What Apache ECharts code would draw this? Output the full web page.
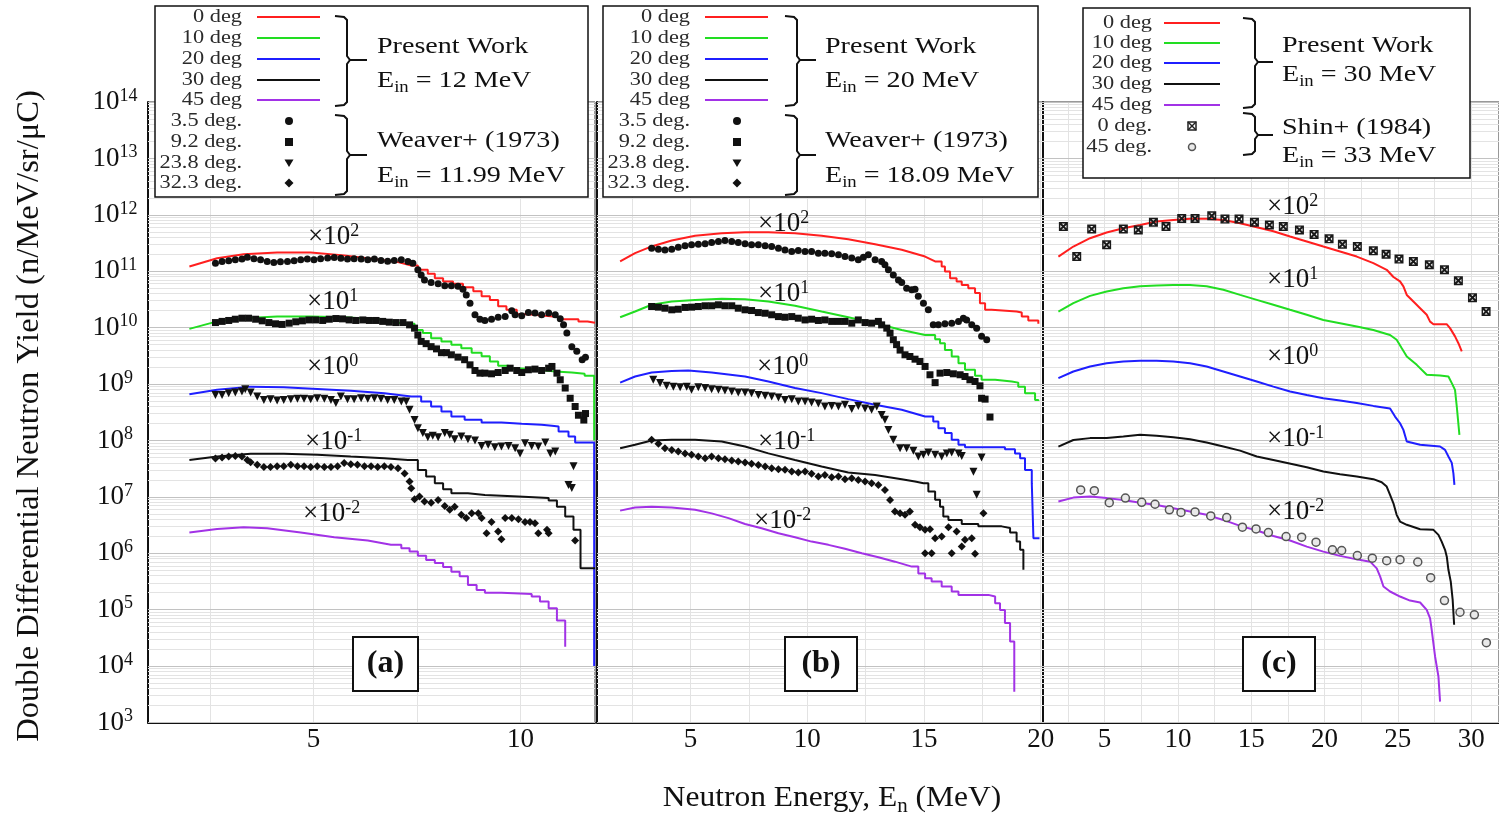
<!DOCTYPE html>
<html>
<head>
<meta charset="utf-8">
<script src="https://cdn.jsdelivr.net/npm/echarts@6.0.0/dist/echarts.min.js"></script>
<style>
html,body{margin:0;padding:0;background:#fff;}
#chart{width:1499px;height:817px;}
</style>
</head>
<body>
<div id="chart"></div>
<script>
// ---------------------------------------------------------------
// Double differential neutron yields, three incident energies.
// Values are raw yields (n/MeV/sr/uC); each angle is drawn
// multiplied by its offset factor (x10^2 ... x10^-2).
// ---------------------------------------------------------------

const ANGLES = ['0 deg', '10 deg', '20 deg', '30 deg', '45 deg'];
const ANGLE_SCALE = [1e2, 1e1, 1, 1e-1, 1e-2];
const SCALE_EXP = ['2', '1', '0', '-1', '-2'];

// Energy axis extents and tick values per panel
const X_RANGE = [[1, 11.8], [1, 20.1], [0.8, 31.9]];
const X_LABELS = [[5, 10], [5, 10, 15, 20], [5, 10, 15, 20, 25, 30]];
const X_TICKS = [[2.5, 5, 7.5, 10], [2.5, 5, 7.5, 10, 12.5, 15, 17.5, 20],
  [2.5, 5, 7.5, 10, 12.5, 15, 17.5, 20, 22.5, 25, 27.5, 30]];
// Yield axis decades
const Y_DECADES = [1e3, 1e4, 1e5, 1e6, 1e7, 1e8, 1e9, 1e10, 1e11, 1e12, 1e13, 1e14];

// ---- Present Work, E_in = 12 MeV ----
const PW12_0 = [[2.00,1.21e9],[2.67,1.70e9],[3.31,2.00e9],[4.12,2.14e9],[4.93,2.14e9],[5.74,1.91e9],[6.55,1.62e9],[7.04,1.45e9],[7.36,1.26e9],[7.52,1.06e9],[7.76,9.0e8],[7.93,7.5e8],[8.13,6.6e8],[8.37,6.0e8],[8.61,5.2e8],[8.86,4.4e8],[9.06,3.6e8],[9.26,3.1e8],[9.46,2.4e8],[9.66,2.07e8],[9.91,1.73e8],[10.19,1.62e8],[10.59,1.53e8],[11.00,1.41e8],[11.40,1.29e8],[11.62,1.22e8],[11.80,1.22e8]];
const PW12_10 = [[2.00,9.5e8],[2.67,1.29e9],[3.31,1.47e9],[4.12,1.57e9],[4.93,1.57e9],[5.74,1.53e9],[6.55,1.41e9],[7.20,1.17e9],[7.44,9.1e8],[7.64,8.0e8],[7.84,6.5e8],[8.09,5.7e8],[8.33,4.95e8],[8.57,4.3e8],[8.82,3.6e8],[9.06,3.1e8],[9.26,2.5e8],[9.46,2.1e8],[9.71,1.88e8],[10.03,1.79e8],[10.43,1.67e8],[10.84,1.60e8],[11.24,1.52e8],[11.55,1.40e8],[11.78,1.0e7]];
const PW12_20 = [[2.00,6.6e8],[2.67,7.9e8],[3.48,9.0e8],[4.28,8.8e8],[5.09,8.2e8],[5.90,7.6e8],[6.71,6.9e8],[7.36,6.0e8],[7.60,4.9e8],[7.84,4.0e8],[8.09,3.26e8],[8.33,2.65e8],[8.65,2.32e8],[9.06,2.08e8],[9.54,1.97e8],[10.03,1.89e8],[10.51,1.82e8],[10.76,1.77e8],[10.92,1.44e8],[11.16,1.17e8],[11.32,9.2e7],[11.78,1.0e4]];
const PW12_30 = [[2.00,4.5e8],[2.67,5.2e8],[3.48,5.8e8],[4.28,5.8e8],[5.09,5.6e8],[5.90,5.2e8],[6.71,4.85e8],[7.28,4.5e8],[7.52,3.0e8],[7.72,2.3e8],[7.93,1.75e8],[8.13,1.37e8],[8.33,1.16e8],[8.73,1.08e8],[9.14,1.01e8],[9.95,9.5e7],[10.68,8.6e7],[10.88,6.7e7],[11.08,4.5e7],[11.28,2.6e7],[11.45,5.4e6],[11.80,5.4e6]];
const PW12_45 = [[2.00,2.33e8],[2.67,2.7e8],[3.31,2.9e8],[3.88,2.78e8],[4.69,2.33e8],[5.50,1.93e8],[6.31,1.68e8],[6.87,1.41e8],[7.12,1.23e8],[7.32,1.07e8],[7.52,9.0e7],[7.72,7.6e7],[7.93,6.7e7],[8.13,5.7e7],[8.33,4.7e7],[8.53,3.9e7],[8.73,2.75e7],[8.94,2.24e7],[9.14,2.0e7],[9.54,1.9e7],[10.27,1.71e7],[10.47,1.39e7],[10.68,1.06e7],[10.88,6.4e6],[11.08,2.2e6]];
// energy where each histogram turns into visible stairs
const STAIRS_12 = [7.52, 7.44, 7.60, 7.52, 7.12];

// ---- Weaver+ (1973), E_in = 11.99 MeV ----
const WV12_3P5 = [[2.63,1.39e9],[2.79,1.49e9],[2.95,1.53e9],[3.11,1.59e9],[3.27,1.64e9],[3.40,1.77e9],[3.56,1.66e9],[3.72,1.59e9],[3.88,1.49e9],[4.04,1.43e9],[4.20,1.47e9],[4.37,1.49e9],[4.53,1.53e9],[4.69,1.59e9],[4.85,1.64e9],[5.01,1.59e9],[5.17,1.66e9],[5.34,1.71e9],[5.50,1.75e9],[5.66,1.69e9],[5.82,1.64e9],[5.98,1.66e9],[6.15,1.64e9],[6.31,1.59e9],[6.47,1.64e9],[6.63,1.55e9],[6.79,1.51e9],[6.95,1.55e9],[7.12,1.59e9],[7.28,1.49e9],[7.40,1.39e9],[7.52,1.06e9],[7.60,8.6e8],[7.68,7.0e8],[7.84,6.3e8],[8.01,6.0e8],[8.17,5.5e8],[8.33,5.5e8],[8.49,5.4e8],[8.61,4.8e8],[8.69,3.8e8],[8.78,2.7e8],[8.90,1.69e8],[9.02,1.41e8],[9.14,1.34e8],[9.30,1.41e8],[9.46,1.53e8],[9.63,1.57e8],[9.79,2.0e8],[9.87,1.69e8],[10.03,1.62e8],[10.19,1.85e8],[10.35,1.81e8],[10.51,1.69e8],[10.68,1.81e8],[10.84,1.69e8],[10.96,1.43e8],[11.04,1.12e8],[11.12,8.0e7],[11.24,4.6e7],[11.36,3.8e7],[11.49,2.7e7],[11.57,3.0e7]];
const WV12_9P2 = [[2.63,1.23e9],[2.79,1.29e9],[2.95,1.34e9],[3.11,1.41e9],[3.27,1.47e9],[3.43,1.47e9],[3.60,1.41e9],[3.76,1.32e9],[3.92,1.23e9],[4.08,1.17e9],[4.24,1.14e9],[4.41,1.20e9],[4.57,1.27e9],[4.73,1.32e9],[4.89,1.37e9],[5.05,1.37e9],[5.22,1.34e9],[5.38,1.41e9],[5.54,1.45e9],[5.70,1.43e9],[5.86,1.37e9],[6.02,1.34e9],[6.19,1.37e9],[6.35,1.34e9],[6.51,1.34e9],[6.67,1.29e9],[6.83,1.25e9],[6.99,1.23e9],[7.16,1.23e9],[7.32,1.12e9],[7.44,9.8e8],[7.52,7.4e8],[7.60,5.7e8],[7.72,5.2e8],[7.84,4.6e8],[7.97,4.2e8],[8.09,3.6e8],[8.21,3.6e8],[8.33,3.3e8],[8.49,3.0e8],[8.65,2.7e8],[8.78,2.19e8],[8.90,1.74e8],[9.02,1.56e8],[9.14,1.56e8],[9.30,1.52e8],[9.46,1.60e8],[9.63,1.74e8],[9.75,1.91e8],[9.91,1.74e8],[10.03,1.60e8],[10.19,1.79e8],[10.35,1.84e8],[10.51,1.74e8],[10.68,1.91e8],[10.76,2.05e8],[10.88,1.56e8],[10.96,1.19e8],[11.08,8.5e7],[11.20,5.6e7],[11.32,4.0e7],[11.40,2.8e7],[11.53,2.3e7],[11.57,3.0e7]];
const WV12_23P8 = [[2.63,6.4e8],[2.79,6.4e8],[2.95,6.9e8],[3.11,7.1e8],[3.27,7.4e8],[3.35,8.1e8],[3.48,7.1e8],[3.64,6.0e8],[3.80,5.2e8],[3.96,5.4e8],[4.12,5.1e8],[4.28,5.2e8],[4.45,5.4e8],[4.61,5.5e8],[4.77,5.5e8],[4.93,5.4e8],[5.09,5.6e8],[5.26,5.5e8],[5.42,5.2e8],[5.54,4.6e8],[5.66,6.0e8],[5.82,5.4e8],[5.98,5.4e8],[6.15,5.6e8],[6.31,5.5e8],[6.47,5.6e8],[6.63,5.5e8],[6.79,5.2e8],[6.95,5.2e8],[7.12,4.9e8],[7.24,4.9e8],[7.32,3.5e8],[7.44,2.3e8],[7.52,1.65e8],[7.64,1.35e8],[7.76,1.14e8],[7.88,1.21e8],[8.01,1.14e8],[8.17,1.35e8],[8.29,1.26e8],[8.41,1.05e8],[8.57,1.17e8],[8.73,1.05e8],[8.90,1.0e8],[9.06,8.0e7],[9.22,8.4e7],[9.38,7.6e7],[9.54,7.8e7],[9.71,8.0e7],[9.87,7.3e7],[9.99,5.9e7],[10.11,8.9e7],[10.27,8.0e7],[10.43,7.8e7],[10.60,9.2e7],[10.72,5.9e7],[10.84,6.4e7],[11.16,1.63e7],[11.24,1.43e7],[11.28,3.5e7]];
const WV12_32P3 = [[2.63,4.8e8],[2.79,5.0e8],[2.95,5.2e8],[3.11,5.3e8],[3.27,5.2e8],[3.40,4.5e8],[3.48,4.1e8],[3.64,3.7e8],[3.80,3.4e8],[3.96,3.4e8],[4.12,3.5e8],[4.28,3.5e8],[4.45,3.7e8],[4.61,3.5e8],[4.77,3.5e8],[4.93,3.4e8],[5.09,3.5e8],[5.26,3.4e8],[5.42,3.4e8],[5.58,3.5e8],[5.74,4.0e8],[5.90,3.8e8],[6.06,3.7e8],[6.23,3.5e8],[6.39,3.5e8],[6.55,3.4e8],[6.71,3.5e8],[6.87,3.4e8],[7.04,3.2e8],[7.20,2.6e8],[7.32,1.87e8],[7.36,1.42e8],[7.44,9.1e7],[7.56,1.01e8],[7.68,8.3e7],[7.84,7.9e7],[8.01,8.8e7],[8.17,6.9e7],[8.29,5.9e7],[8.41,6.7e7],[8.57,4.8e7],[8.69,4.2e7],[8.82,5.1e7],[8.98,5.1e7],[9.06,4.2e7],[9.18,2.26e7],[9.30,3.6e7],[9.46,2.43e7],[9.54,1.77e7],[9.63,4.2e7],[9.79,4.2e7],[9.95,4.0e7],[10.11,3.6e7],[10.23,3.6e7],[10.35,3.4e7],[10.43,2.26e7],[10.64,2.6e7],[10.68,2.26e7],[11.32,1.68e7]];

// ---- Present Work, E_in = 20 MeV ----
const PW20_0 = [[1.99,1.49e9],[2.63,2.09e9],[3.34,2.75e9],[4.20,3.5e9],[5.20,4.25e9],[6.34,4.73e9],[7.34,4.93e9],[8.34,4.93e9],[9.48,4.73e9],[10.62,4.25e9],[11.76,3.7e9],[12.91,3.0e9],[14.05,2.4e9],[15.05,1.82e9],[15.48,1.49e9],[15.76,1.21e9],[15.90,9.9e8],[16.12,7.5e8],[16.40,6.6e8],[16.62,5.7e8],[16.90,5.0e8],[17.19,4.1e8],[17.40,2.7e8],[17.62,2.07e8],[17.90,1.93e8],[18.97,1.85e8],[19.19,1.57e8],[19.47,1.34e8],[19.90,1.17e8]];
const PW20_10 = [[1.99,1.53e9],[2.63,1.93e9],[3.34,2.54e9],[4.20,2.9e9],[5.20,3.1e9],[6.34,3.24e9],[7.34,3.2e9],[8.34,2.9e9],[9.48,2.44e9],[10.62,1.93e9],[11.76,1.53e9],[12.91,1.2e9],[14.05,9.1e8],[15.05,7.4e8],[15.48,6.2e8],[15.69,5.3e8],[15.90,4.0e8],[16.19,3.08e8],[16.48,2.34e8],[16.76,1.79e8],[17.19,1.40e8],[17.47,1.19e8],[18.05,1.11e8],[18.76,1.06e8],[19.04,9.0e7],[19.33,6.9e7],[19.76,5.2e7],[19.90,5.0e7]];
const PW20_20 = [[1.99,1.06e9],[2.63,1.36e9],[3.34,1.60e9],[4.20,1.71e9],[4.91,1.74e9],[5.91,1.60e9],[7.34,1.36e9],[8.34,1.11e9],[9.48,8.5e8],[10.62,6.9e8],[11.76,5.4e8],[12.91,4.3e8],[14.05,3.5e8],[15.05,2.65e8],[15.40,2.17e8],[15.62,1.65e8],[15.90,1.35e8],[16.19,1.03e8],[16.48,8.4e7],[16.76,7.6e7],[18.47,7.0e7],[18.90,5.9e7],[19.12,4.85e7],[19.33,3.0e7],[19.62,1.75e7],[19.69,1.85e6],[19.95,1.85e6]];
const PW20_30 = [[1.99,7.3e8],[2.63,8.4e8],[3.34,1.0e9],[4.20,1.03e9],[5.20,1.03e9],[6.34,9.6e8],[7.34,7.8e8],[8.34,5.9e8],[9.48,4.5e8],[10.62,3.45e8],[11.76,2.7e8],[12.91,2.45e8],[14.05,2.06e8],[14.62,1.87e8],[14.98,1.75e8],[15.19,1.24e8],[15.48,8.9e7],[15.69,6.7e7],[15.83,4.5e7],[16.05,3.9e7],[16.62,3.3e7],[17.33,3.0e7],[18.33,2.8e7],[18.69,2.33e7],[18.97,1.61e7],[19.12,1.15e7],[19.26,5.1e6]];
const PW20_45 = [[1.99,5.7e8],[2.63,6.5e8],[3.34,6.7e8],[4.20,6.5e8],[5.20,5.9e8],[5.91,5.1e8],[6.63,4.2e8],[7.34,3.3e8],[8.05,2.78e8],[8.77,2.26e8],[9.48,1.93e8],[10.19,1.61e8],[10.91,1.41e8],[11.62,1.20e8],[12.34,1.0e8],[13.05,8.5e7],[13.76,7.1e7],[14.48,5.8e7],[14.76,4.4e7],[15.05,3.6e7],[15.33,3.15e7],[15.76,2.57e7],[16.19,2.1e7],[16.48,1.83e7],[17.76,1.71e7],[18.05,1.30e7],[18.26,9.9e6],[18.47,5.8e6],[18.69,2.72e6],[18.87,3.5e5]];
const STAIRS_20 = [15.76, 15.48, 15.40, 15.19, 14.76];

// ---- Weaver+ (1973), E_in = 18.09 MeV ----
const WV18_3P5 = [[3.34,2.56e9],[3.63,2.46e9],[3.91,2.39e9],[4.20,2.46e9],[4.48,2.67e9],[4.77,2.82e9],[5.05,2.94e9],[5.34,3.0e9],[5.63,3.06e9],[5.91,3.24e9],[6.20,3.37e9],[6.48,3.5e9],[6.77,3.37e9],[7.05,3.24e9],[7.34,3.06e9],[7.62,2.94e9],[7.91,2.94e9],[8.20,2.82e9],[8.48,2.75e9],[8.77,2.56e9],[9.05,2.39e9],[9.34,2.24e9],[9.62,2.33e9],[9.91,2.24e9],[10.19,2.24e9],[10.48,2.09e9],[10.76,2.09e9],[11.05,2.04e9],[11.34,1.95e9],[11.62,1.82e9],[11.91,1.71e9],[12.19,1.59e9],[12.41,1.77e9],[12.62,1.95e9],[12.91,1.59e9],[13.19,1.49e9],[13.33,1.30e9],[13.48,1.06e9],[13.69,8.6e8],[13.91,7.0e8],[14.05,6.3e8],[14.26,5.0e8],[14.48,4.7e8],[14.62,4.8e8],[14.76,3.6e8],[14.98,2.7e8],[15.19,2.07e8],[15.40,1.12e8],[15.62,1.12e8],[15.90,1.17e8],[16.19,1.20e8],[16.48,1.29e8],[16.69,1.47e8],[16.83,1.37e8],[17.05,1.12e8],[17.26,9.8e7],[17.47,7.0e7],[17.69,6.1e7]];
const WV18_9P2 = [[3.34,2.37e9],[3.63,2.31e9],[3.91,2.21e9],[4.20,2.07e9],[4.48,2.12e9],[4.77,2.28e9],[5.05,2.31e9],[5.34,2.37e9],[5.63,2.44e9],[5.91,2.44e9],[6.20,2.54e9],[6.48,2.44e9],[6.77,2.44e9],[7.05,2.21e9],[7.34,2.07e9],[7.62,2.01e9],[7.91,1.85e9],[8.20,1.80e9],[8.48,1.69e9],[8.77,1.57e9],[9.05,1.53e9],[9.34,1.57e9],[9.62,1.47e9],[9.91,1.37e9],[10.19,1.41e9],[10.48,1.34e9],[10.76,1.37e9],[11.05,1.29e9],[11.34,1.29e9],[11.62,1.29e9],[11.91,1.20e9],[12.19,1.37e9],[12.48,1.23e9],[12.76,1.20e9],[13.05,1.29e9],[13.19,1.12e9],[13.41,9.8e8],[13.55,8.0e8],[13.69,6.1e8],[13.83,5.0e8],[13.98,4.0e8],[14.19,3.3e8],[14.40,3.08e8],[14.62,2.76e8],[14.83,2.51e8],[15.05,2.05e8],[15.26,1.46e8],[15.48,1.06e8],[15.69,1.56e8],[15.98,1.60e8],[16.26,1.52e8],[16.55,1.46e8],[16.76,1.36e8],[16.97,1.19e8],[17.19,1.11e8],[17.40,9.3e7],[17.47,5.6e7],[17.62,5.4e7],[17.83,2.6e7]];
const WV18_23P8 = [[3.41,1.19e9],[3.70,1.04e9],[3.98,9.3e8],[4.27,9.0e8],[4.56,8.8e8],[4.84,9.0e8],[5.05,7.9e8],[5.34,8.8e8],[5.63,8.5e8],[5.91,8.1e8],[6.20,7.9e8],[6.48,7.7e8],[6.77,7.4e8],[7.05,7.1e8],[7.34,7.1e8],[7.62,6.9e8],[7.91,6.4e8],[8.20,6.2e8],[8.48,6.0e8],[8.77,5.8e8],[9.05,5.2e8],[9.34,5.4e8],[9.62,4.9e8],[9.91,4.9e8],[10.19,4.7e8],[10.48,4.5e8],[10.76,4.0e8],[11.05,4.1e8],[11.34,4.0e8],[11.62,4.3e8],[11.91,3.6e8],[12.19,4.1e8],[12.48,3.7e8],[12.76,3.5e8],[12.98,4.0e8],[13.19,2.84e8],[13.33,2.32e8],[13.48,1.54e8],[13.69,1.03e8],[13.98,7.3e7],[14.26,7.3e7],[14.55,6.6e7],[14.76,5.2e7],[14.98,5.6e7],[15.19,6.1e7],[15.48,5.6e7],[15.76,5.2e7],[15.98,5.9e7],[16.19,6.1e7],[16.48,5.9e7],[16.62,5.3e7],[17.12,2.8e7],[17.26,1.09e7],[17.47,5.0e7]];
const WV18_32P3 = [[3.34,1.03e9],[3.63,8.7e8],[3.91,7.3e8],[4.20,6.8e8],[4.48,6.4e8],[4.77,5.9e8],[5.05,5.6e8],[5.34,5.2e8],[5.63,4.85e8],[5.91,5.2e8],[6.20,4.85e8],[6.48,4.66e8],[6.77,4.4e8],[7.05,4.24e8],[7.34,4.06e8],[7.62,3.85e8],[7.91,3.69e8],[8.20,3.45e8],[8.48,3.22e8],[8.77,3.09e8],[9.05,3.01e8],[9.34,2.81e8],[9.62,2.70e8],[9.91,2.81e8],[10.19,2.56e8],[10.48,2.30e8],[10.76,2.45e8],[11.05,2.23e8],[11.34,2.30e8],[11.62,2.06e8],[11.91,2.14e8],[12.19,2.0e8],[12.48,1.87e8],[12.76,1.75e8],[13.05,1.63e8],[13.33,1.33e8],[13.55,8.8e7],[13.76,5.5e7],[13.98,5.1e7],[14.19,4.8e7],[14.40,5.5e7],[14.62,3.2e7],[14.83,2.9e7],[15.05,2.6e7],[15.26,2.67e7],[15.48,1.85e7],[15.76,1.98e7],[16.05,2.9e7],[16.40,2.43e7],[16.62,1.32e7],[16.76,1.73e7],[17.05,1.85e7],[15.05,1.0e7],[15.33,1.0e7],[16.19,1.0e7],[17.19,9.8e6],[17.55,5.1e7]];

// ---- Present Work, E_in = 30 MeV ----
const PW30_0 = [[1.85,1.82e9],[2.87,2.74e9],[4.01,3.85e9],[5.14,4.86e9],[6.28,5.8e9],[7.42,6.6e9],[8.55,7.6e9],[9.69,8.1e9],[10.83,8.5e9],[11.96,8.5e9],[13.10,8.1e9],[14.24,7.1e9],[15.38,6.0e9],[16.51,5.1e9],[17.65,4.13e9],[18.79,3.37e9],[19.92,2.74e9],[21.06,2.24e9],[22.20,1.82e9],[23.33,1.39e9],[24.24,1.06e9],[24.70,7.9e8],[25.15,6.6e8],[25.38,5.4e8],[25.61,3.8e8],[26.06,2.9e8],[26.52,2.21e8],[26.97,1.69e8],[27.20,1.28e8],[27.43,1.15e8],[28.33,1.15e8],[28.56,9.8e7],[28.90,7.0e7],[29.13,5.3e7],[29.36,3.8e7]];
const PW30_10 = [[1.85,1.93e9],[2.87,2.72e9],[4.01,3.66e9],[5.14,4.37e9],[6.28,5.0e9],[7.42,5.4e9],[8.55,5.6e9],[9.69,5.7e9],[10.83,5.7e9],[11.96,5.4e9],[13.10,4.68e9],[14.24,3.81e9],[15.38,3.11e9],[16.51,2.54e9],[17.65,2.07e9],[18.79,1.69e9],[19.92,1.37e9],[21.06,1.20e9],[22.20,1.05e9],[23.33,9.1e8],[24.47,7.4e8],[24.92,6.1e8],[25.27,4.3e8],[25.61,3.08e8],[26.29,2.19e8],[26.97,1.46e8],[27.88,1.42e8],[28.45,1.36e8],[28.68,1.04e8],[28.90,7.9e7],[29.02,4.0e7],[29.20,1.26e7]];
const PW30_20 = [[1.85,1.27e9],[2.87,1.67e9],[4.01,2.05e9],[5.14,2.34e9],[6.28,2.51e9],[7.42,2.58e9],[8.55,2.58e9],[9.69,2.51e9],[10.83,2.34e9],[11.96,2.05e9],[13.10,1.67e9],[14.24,1.36e9],[15.38,1.11e9],[16.51,9.0e8],[17.65,7.4e8],[18.79,6.4e8],[19.92,5.6e8],[21.06,5.1e8],[22.20,4.6e8],[23.33,4.1e8],[24.47,3.7e8],[24.81,2.65e8],[25.15,2.02e8],[25.38,1.54e8],[25.61,9.6e7],[26.52,8.4e7],[27.88,7.8e7],[28.22,6.8e7],[28.45,5.2e7],[28.68,4.0e7],[28.79,2.6e7],[28.86,1.63e7]];
const PW30_30 = [[1.85,7.8e8],[2.87,1.02e9],[4.01,1.10e9],[5.14,1.10e9],[6.28,1.17e9],[7.42,1.26e9],[8.55,1.21e9],[9.69,1.14e9],[10.83,1.05e9],[11.96,9.2e8],[13.10,7.8e8],[14.24,6.6e8],[15.38,5.2e8],[16.51,4.5e8],[18.79,3.36e8],[19.92,2.81e8],[21.06,2.52e8],[22.20,2.29e8],[23.33,2.06e8],[23.90,1.82e8],[24.24,1.52e8],[24.47,1.08e8],[24.70,7.7e7],[24.92,4.8e7],[25.15,3.65e7],[25.61,3.2e7],[26.52,2.67e7],[27.43,2.6e7],[27.77,2.12e7],[27.99,1.61e7],[28.22,1.15e7],[28.34,8.7e6],[28.45,5.1e6],[28.61,3.15e6],[28.74,1.49e6],[28.84,5.4e5]];
const PW30_45 = [[1.85,8.3e8],[2.87,9.7e8],[4.01,1.01e9],[5.14,9.5e8],[6.28,8.8e8],[7.42,7.9e8],[8.55,7.2e8],[9.69,6.3e8],[10.83,5.5e8],[11.96,4.8e8],[13.10,3.9e8],[14.24,3.06e8],[15.38,2.53e8],[16.51,2.03e8],[17.65,1.68e8],[18.79,1.31e8],[19.92,1.07e8],[21.06,9.0e7],[22.20,7.8e7],[23.11,7.1e7],[23.56,5.4e7],[23.79,3.9e7],[24.02,2.57e7],[24.47,2.1e7],[25.15,1.71e7],[25.83,1.45e7],[26.52,1.34e7],[26.97,9.9e6],[27.20,7.0e6],[27.31,4.4e6],[27.54,1.48e6],[27.77,6.5e5],[27.88,2.35e5]];
const STAIRS_30 = [null, null, null, null, null];

// ---- Shin+ (1984), E_in = 33 MeV ----
const SH33_0 = [[2.19,6.2e9],[3.10,1.82e9],[4.12,5.6e9],[5.14,2.94e9],[6.28,5.6e9],[7.30,5.4e9],[8.33,7.4e9],[9.19,6.2e9],[10.26,8.6e9],[11.17,8.6e9],[12.31,9.6e9],[13.21,8.4e9],[14.17,8.4e9],[15.22,7.4e9],[16.24,6.6e9],[17.19,6.2e9],[18.29,5.4e9],[19.29,4.5e9],[20.31,3.75e9],[21.22,3.0e9],[22.24,2.74e9],[23.33,2.3e9],[24.20,2.0e9],[25.08,1.64e9],[26.06,1.49e9],[27.15,1.30e9],[28.18,1.06e9],[29.13,6.8e8],[30.09,3.4e8],[31.02,1.93e8]];
const SH33_45 = [[3.37,1.33e9],[4.30,1.29e9],[5.32,7.9e8],[6.42,9.5e8],[7.53,8.0e8],[8.44,7.4e8],[9.42,5.9e8],[10.21,5.3e8],[11.17,5.4e8],[12.24,4.6e8],[13.33,4.3e8],[14.40,2.9e8],[15.33,2.7e8],[16.17,2.33e8],[17.38,1.98e8],[18.44,1.93e8],[19.42,1.57e8],[20.54,1.15e8],[21.17,1.12e8],[22.24,9.1e7],[23.26,8.2e7],[24.24,7.4e7],[25.15,7.7e7],[26.36,7.0e7],[27.24,3.7e7],[28.18,1.45e7],[29.24,9.0e6],[30.22,8.1e6],[31.04,2.6e6]];

// ---------------------------------------------------------------
const SERIF = "'Liberation Serif','Times New Roman',Times,serif";
const COLORS = ['#ff1f1f', '#22dd22', '#1f1fff', '#111111', '#a232e6'];
// boxed-cross marker (square outline with an X inside)
const SHIN0_PATH = 'M0,0L10,0L10,10L0,10Z M1.6,1.6L1.6,8.4L8.4,8.4L8.4,1.6Z M1.6,1.6L3.2,1.6L8.4,6.8L8.4,8.4L6.8,8.4L1.6,3.2Z M8.4,1.6L8.4,3.2L3.2,8.4L1.6,8.4L1.6,6.8L6.8,1.6Z';

const WEAVER_STYLE = [
  { symbol: 'circle', size: 7, rotate: 0 },
  { symbol: 'rect', size: 7, rotate: 0 },
  { symbol: 'triangle', size: 8, rotate: 180 },
  { symbol: 'diamond', size: 8, rotate: 0 }
];

const PANELS = [
  { pw: [PW12_0, PW12_10, PW12_20, PW12_30, PW12_45], stairs: STAIRS_12,
    exp: [
      { data: WV12_3P5, k: 1e2, st: WEAVER_STYLE[0] },
      { data: WV12_9P2, k: 1e1, st: WEAVER_STYLE[1] },
      { data: WV12_23P8, k: 1, st: WEAVER_STYLE[2] },
      { data: WV12_32P3, k: 1e-1, st: WEAVER_STYLE[3] }] },
  { pw: [PW20_0, PW20_10, PW20_20, PW20_30, PW20_45], stairs: STAIRS_20,
    exp: [
      { data: WV18_3P5, k: 1e2, st: WEAVER_STYLE[0] },
      { data: WV18_9P2, k: 1e1, st: WEAVER_STYLE[1] },
      { data: WV18_23P8, k: 1, st: WEAVER_STYLE[2] },
      { data: WV18_32P3, k: 1e-1, st: WEAVER_STYLE[3] }] },
  { pw: [PW30_0, PW30_10, PW30_20, PW30_30, PW30_45], stairs: STAIRS_30,
    exp: [
      { data: SH33_0, k: 1e2, st: { symbol: 'path://' + SHIN0_PATH, size: 9, rotate: 0 }, color: '#1a1a1a' },
      { data: SH33_45, k: 1e-2, st: { symbol: 'circle', size: 8, rotate: 0 }, open: true }] }
];

// Histogram-like curve: smooth below `from`, explicit stair corners above
function buildCurve(pts, from, k) {
  const out = [];
  pts.forEach(function (p, i) {
    if (from != null && i > 0 && p[0] >= from) out.push([p[0], pts[i - 1][1] * k]);
    out.push([p[0], p[1] * k]);
  });
  return out;
}

// log-minor values (2..9 per decade) for the light grid and the axis ticks
const MINOR_Y = [];
for (let n = 3; n < 14; n++) for (let m = 2; m <= 9; m++) MINOR_Y.push(m * Math.pow(10, n));

function gridSeries(g) {
  const data = MINOR_Y.map(function (v) { return { yAxis: v }; })
    .concat(X_TICKS[g].map(function (v) { return { xAxis: v }; }))
    .concat(Y_DECADES.map(function (v) { return { yAxis: v, lineStyle: { color: '#c2c2c2' } }; }));
  return {
    type: 'line', xAxisIndex: g, yAxisIndex: g, data: [], silent: true, z: 1,
    markLine: {
      silent: true, symbol: ['none', 'none'], z: 1, animation: false,
      label: { show: false }, emphasis: { disabled: true },
      lineStyle: { color: '#e3e3e3', width: 1, type: 'solid' }, data: data
    }
  };
}

const series = [];
PANELS.forEach(function (p, g) {
  series.push(gridSeries(g));
  p.pw.forEach(function (pts, k) {
    series.push({
      type: 'line', name: ANGLES[k], xAxisIndex: g, yAxisIndex: g,
      data: buildCurve(pts, p.stairs[k], ANGLE_SCALE[k]),
      symbol: 'none', silent: true, z: 3,
      lineStyle: { color: COLORS[k], width: 2 }
    });
  });
  p.exp.forEach(function (e) {
    series.push({
      type: 'scatter', xAxisIndex: g, yAxisIndex: g, silent: true, z: 4,
      data: e.data.map(function (q) { return [q[0], q[1] * e.k]; }),
      symbol: e.st.symbol, symbolSize: e.st.size, symbolRotate: e.st.rotate,
      itemStyle: e.open
        ? { color: '#e9e9e9', borderColor: '#555', borderWidth: 1.5, opacity: 1 }
        : { color: e.color || '#111', opacity: 1 }
    });
  });
});

// ---------------- graphic helpers ----------------
function T(x, y, text, size, o) {
  o = o || {};
  const style = {
    text: text, fontFamily: SERIF, fontSize: size, fontWeight: o.bold ? 'bold' : 'normal',
    fill: o.color || '#111', align: o.align || 'left', verticalAlign: 'middle'
  };
  if (o.rich) style.rich = o.rich;
  return { type: 'text', x: x, y: y, z: 102, scaleX: o.sx || 1, rotation: o.rot || 0, style: style };
}
function subRich(size, subSize) {
  return {
    m: { fontFamily: SERIF, fontSize: size, lineHeight: Math.round(size * 1.25), fill: '#111' },
    sub: { fontFamily: SERIF, fontSize: subSize, lineHeight: subSize, verticalAlign: 'bottom', fill: '#111' }
  };
}
const SUP_RICH = {
  m: { fontFamily: SERIF, fontSize: 27, lineHeight: 30, fill: '#111' },
  s: { fontFamily: SERIF, fontSize: 18, lineHeight: 18, verticalAlign: 'top', fill: '#111' }
};
function rect(x, y, w, h, lw) {
  return { type: 'rect', z: 100, shape: { x: x, y: y, width: w, height: h },
    style: { fill: '#fff', stroke: '#111', lineWidth: lw } };
}
function seg(x0, y0, x1, y1, color, lw) {
  return { type: 'line', z: 102, shape: { x1: x0, y1: y0, x2: x1, y2: y1 },
    style: { stroke: color, lineWidth: lw } };
}
function brace(xh, xv, xt, y0, ym, y1) {
  return { type: 'polyline', z: 102,
    shape: { points: [[xh, y0], [xv - 3, y0 + 1], [xv, y0 + 4], [xv, ym - 4], [xv + 3, ym], [xt, ym],
      [xv + 3, ym], [xv, ym + 4], [xv, y1 - 4], [xv - 3, y1 - 1], [xh, y1]] },
    style: { stroke: '#111', lineWidth: 2, fill: null } };
}
// legend marker shapes, returned as lists of elements
function mark(kind, x, y) {
  if (kind === 'circle') return [{ type: 'circle', z: 102, shape: { cx: x, cy: y, r: 4 }, style: { fill: '#111' } }];
  if (kind === 'rect') return [{ type: 'rect', z: 102, shape: { x: x - 4, y: y - 4, width: 8, height: 8 }, style: { fill: '#111' } }];
  if (kind === 'tri') return [{ type: 'polygon', z: 102, shape: { points: [[x - 4.5, y - 3.5], [x + 4.5, y - 3.5], [x, y + 4]] }, style: { fill: '#111' } }];
  if (kind === 'dia') return [{ type: 'polygon', z: 102, shape: { points: [[x, y - 4.5], [x + 4.5, y], [x, y + 4.5], [x - 4.5, y]] }, style: { fill: '#111' } }];
  if (kind === 'shin0') return [
    { type: 'rect', z: 102, shape: { x: x - 4, y: y - 4, width: 8, height: 8 }, style: { fill: '#fff', stroke: '#222', lineWidth: 1.5 } },
    seg(x - 4, y - 4, x + 4, y + 4, '#222', 1.5), seg(x + 4, y - 4, x - 4, y + 4, '#222', 1.5)];
  return [{ type: 'circle', z: 102, shape: { cx: x, cy: y, r: 3.5 }, style: { fill: '#e9e9e9', stroke: '#555', lineWidth: 1.5 } }];
}

function legend(o) {
  const els = [rect(o.box[0], o.box[1], o.box[2], o.box[3], 1.5)];
  o.labels.forEach(function (lab, i) {
    els.push(T(o.labelRight, o.rows[i], lab, 18, { align: 'right', sx: 1.24, color: '#2a2a2a' }));
    if (i < 5) els.push(seg(o.line[0], o.rows[i], o.line[1], o.rows[i], COLORS[i], 2));
    else els.push.apply(els, mark(o.marks[i - 5], o.markX, o.rows[i]));
  });
  o.braces.forEach(function (b) { els.push(brace(o.braceX[0], o.braceX[1], o.braceX[2], b[0], b[1], b[2])); });
  o.texts.forEach(function (t) {
    if (t[2]) els.push(T(o.textX, t[0], '{m|E}{sub|in}{m|' + t[1] + '}', 24, { sx: 1.17, rich: subRich(24, 16) }));
    else els.push(T(o.textX, t[0], t[1], 24, { sx: 1.17 }));
  });
  return els;
}

const graphics = [];
graphics.push.apply(graphics, legend({
  box: [155, 6, 433, 191], labelRight: 242, line: [257, 320], markX: 289,
  rows: [17, 38, 59, 80, 100, 121, 142, 163, 183],
  labels: ANGLES.concat(['3.5 deg.', '9.2 deg.', '23.8 deg.', '32.3 deg.']),
  marks: ['circle', 'rect', 'tri', 'dia'],
  braceX: [335, 347, 367], braces: [[16, 60, 106], [115, 155, 195]],
  textX: 377, texts: [[47, 'Present Work'], [81, ' = 12 MeV', true], [141, 'Weaver+ (1973)'], [176, ' = 11.99 MeV', true]]
}));
graphics.push.apply(graphics, legend({
  box: [603, 6, 435, 191], labelRight: 690, line: [705, 768], markX: 737,
  rows: [17, 38, 59, 80, 100, 121, 142, 163, 183],
  labels: ANGLES.concat(['3.5 deg.', '9.2 deg.', '23.8 deg.', '32.3 deg.']),
  marks: ['circle', 'rect', 'tri', 'dia'],
  braceX: [785, 797, 816], braces: [[16, 60, 106], [115, 155, 195]],
  textX: 825, texts: [[47, 'Present Work'], [81, ' = 20 MeV', true], [141, 'Weaver+ (1973)'], [176, ' = 18.09 MeV', true]]
}));
graphics.push.apply(graphics, legend({
  box: [1083, 8, 387, 170], labelRight: 1152, line: [1164, 1220], markX: 1192,
  rows: [23, 43, 63, 84, 105, 126, 147],
  labels: ANGLES.concat(['0 deg.', '45 deg.']),
  marks: ['shin0', 'open'],
  braceX: [1243, 1255, 1273], braces: [[18, 62, 108], [113, 135, 155]],
  textX: 1282, texts: [[46, 'Present Work'], [75, ' = 30 MeV', true], [128, 'Shin+ (1984)'], [156, ' = 33 MeV', true]]
}));

// offset-factor annotations next to each curve family
const FACTOR_POS = [
  [[308, 237], [307, 302], [307, 367], [305, 442], [303, 514]],
  [[758, 224], [758, 294], [757, 367], [758, 442], [754, 521]],
  [[1267, 207], [1267, 280], [1267, 357], [1267, 439], [1267, 512]]
];
FACTOR_POS.forEach(function (panel) {
  panel.forEach(function (p, k) {
    graphics.push(T(p[0], p[1], '{m|\u00d710}{s|' + SCALE_EXP[k] + '}', 27, { rich: SUP_RICH }));
  });
});

// panel tags
[[353, 65, '(a)'], [785, 72, '(b)'], [1243, 72, '(c)']].forEach(function (t) {
  graphics.push(rect(t[0], 637, t[1], 54, 2));
  graphics.push(T(t[0] + t[1] / 2, 664, t[2], 32, { align: 'center', bold: true }));
});

// axis titles
graphics.push(T(832, 798, '{m|Neutron Energy, E}{sub|n}{m| (MeV)}', 30,
  { align: 'center', sx: 1.05, rich: subRich(30, 20) }));
graphics.push(T(30, 416, 'Double Differential Neutron Yield (n/MeV/sr/\u03bcC)', 31,
  { align: 'center', sx: 1.05, rot: Math.PI / 2 }));

// ---------------- chart ----------------
const GRIDS = [
  { left: 148, top: 102, width: 447, height: 620.5 },
  { left: 597, top: 102, width: 446, height: 620.5 },
  { left: 1043, top: 102, width: 458, height: 620.5 }
];

const option = {
  animation: false,
  backgroundColor: '#fff',
  grid: GRIDS.map(function (g) {
    return Object.assign({ show: true, borderColor: '#333', borderWidth: 1, containLabel: false }, g);
  }),
  xAxis: X_RANGE.map(function (r, i) {
    return {
      type: 'value', gridIndex: i, min: r[0], max: r[1],
      axisLine: { show: true, onZero: false, lineStyle: { color: '#111', width: 2 } },
      axisTick: { show: true, inside: true, length: 5, customValues: X_TICKS[i], lineStyle: { color: '#333' } },
      axisLabel: { show: true, customValues: X_LABELS[i], margin: 4, fontFamily: SERIF, fontSize: 27, color: '#111' },
      splitLine: { show: false }
    };
  }),
  yAxis: [0, 1, 2].map(function (i) {
    return {
      type: 'log', logBase: 10, gridIndex: i, min: 1e3, max: 1e14,
      axisLine: { show: true, onZero: false, lineStyle: { color: '#111', width: 2 } },
      axisTick: { show: true, inside: true, length: 5, customValues: Y_DECADES.concat(MINOR_Y), lineStyle: { color: '#444' } },
      axisLabel: {
        show: i === 0, customValues: Y_DECADES, interval: 0, margin: 33, align: 'center',
        formatter: function (v) { return '{b|10}{s|' + Math.round(Math.log10(v)) + '}'; },
        rich: {
          b: { fontFamily: SERIF, fontSize: 27, lineHeight: 30, color: '#111' },
          s: { fontFamily: SERIF, fontSize: 18, lineHeight: 18, verticalAlign: 'top', color: '#111' }
        }
      },
      splitLine: { show: false }
    };
  }),
  series: series,
  graphic: { elements: graphics }
};

const chart = echarts.init(document.getElementById('chart'));
chart.setOption(option);
</script>
</body>
</html>
